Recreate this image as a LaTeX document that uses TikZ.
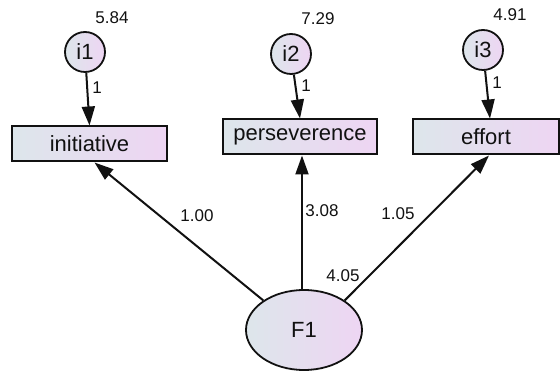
\documentclass[tikz,border=0pt]{standalone}
\usepackage{fontspec}
\setmainfont{Liberation Sans}
\usetikzlibrary{arrows.meta,shapes.geometric}
\definecolor{fillL}{HTML}{DDE6EB}
\definecolor{fillR}{HTML}{EED5F3}
\definecolor{ink}{HTML}{111111}
\begin{document}
\begin{tikzpicture}[x=1pt,y=-1pt,
  obs/.style={draw=ink, line width=2pt, left color=fillL, right color=fillR,
    minimum width=#1, minimum height=35pt, inner sep=0pt,
    font=\fontsize{22}{26}\selectfont, text=ink},
  err/.style={circle, draw=ink, line width=1.8pt, left color=fillL, right color=fillR,
    minimum size=40pt, inner sep=0pt, font=\fontsize{22}{26}\selectfont, text=ink},
  lat/.style={ellipse, draw=ink, line width=1.8pt, left color=fillL, right color=fillR,
    minimum width=116pt, minimum height=80pt, inner sep=0pt,
    font=\fontsize{22}{26}\selectfont, text=ink},
  arr/.style={-{Triangle[length=19pt,width=13pt]}, line width=2pt, draw=ink},
  num/.style={font=\fontsize{17}{20}\selectfont, text=ink, inner sep=0pt}
]
\useasboundingbox (0,0) rectangle (560,371);

% observed variables
\node[obs=155pt] (init) at (89.5,144) {initiative};
\node[obs=154pt] (pers) at (300,137) {perseverence};
\node[obs=146pt] (eff)  at (486,137) {effort};

% error terms
\node[err] (i1) at (85,52) {i1};
\node[err] (i2) at (291,54) {i2};
\node[err] (i3) at (483,50) {i3};

% latent
\node[lat] (F1) at (304,330) {F1};

% variances
\node[num] (v1) at (112,18) {5.84};
\node[num] (v2) at (318,19) {7.29};
\node[num] (v3) at (510,15) {4.91};

% error paths
\draw[arr] (i1) -- (init.north);
\draw[arr] (i2) -- (pers.north);
\draw[arr] (i3) -- ([xshift=4pt]eff.north);
\node[num] (w1) at (97,88) {1};
\node[num] (w2) at (306,86) {1};
\node[num] (w3) at (497,83) {1};

% loadings
\draw[arr] (F1.144) -- ([xshift=5pt]init.south);
\draw[arr] ([xshift=-2pt]F1.north) -- ([xshift=2pt]pers.south);
\draw[arr] (F1.36) -- ([xshift=3pt]eff.south);
\node[num] (l1) at (197,216) {1.00};
\node[num] (l2) at (322,211) {3.08};
\node[num] (l3) at (398,214) {1.05};
\node[num] (fv) at (343,276) {4.05};
\end{tikzpicture}
\end{document}
